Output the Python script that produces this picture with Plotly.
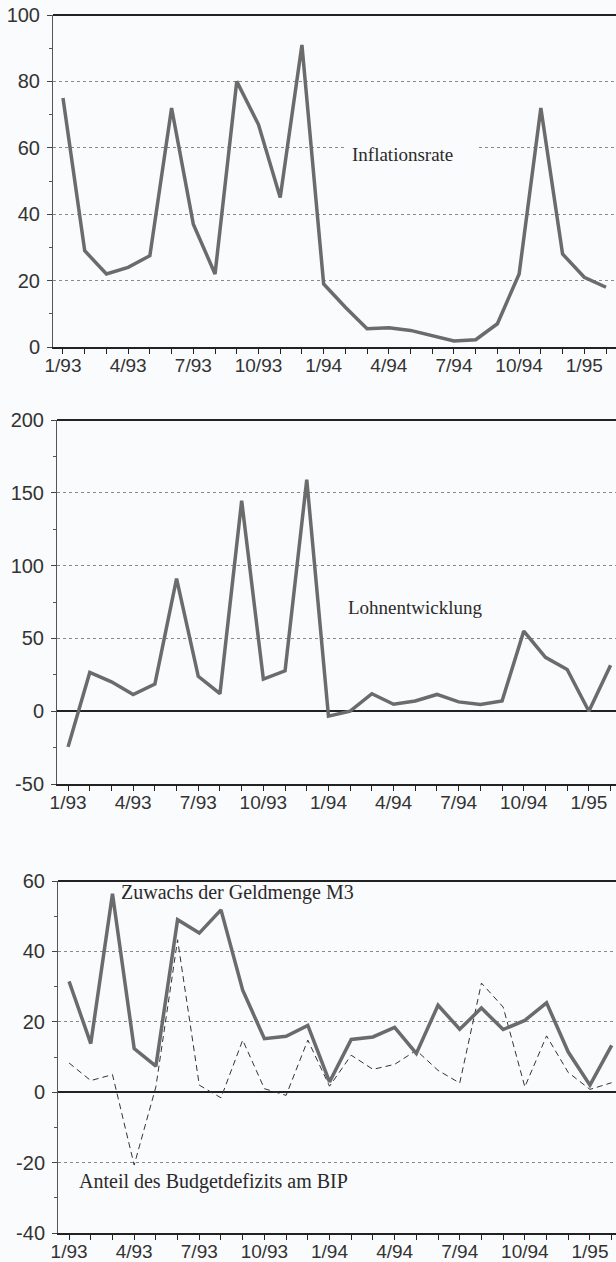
import plotly.graph_objects as go

months = ["1/93", "2/93", "3/93", "4/93", "5/93", "6/93", "7/93", "8/93", "9/93",
          "10/93", "11/93", "12/93", "1/94", "2/94", "3/94", "4/94", "5/94", "6/94",
          "7/94", "8/94", "9/94", "10/94", "11/94", "12/94", "1/95", "2/95"]
tick_labels = ["1/93", "", "", "4/93", "", "", "7/93", "", "", "10/93", "", "",
               "1/94", "", "", "4/94", "", "", "7/94", "", "", "10/94", "", "",
               "1/95", ""]

inflation = [75, 29, 22, 24, 27.5, 72, 37, 22, 80, 67, 45, 91, 19, 12, 5.5, 5.8,
             5.0, 3.5, 1.8, 2.2, 7.0, 22, 72, 28, 21, 18]
wages = [-24.5, 26.6, 20.2, 11.5, 18.6, 91, 24, 12, 144.5, 22, 27.7, 159, -3.4, 0,
         12, 4.8, 7, 11.5, 6.4, 4.6, 7, 55, 37, 28.6, 0, 31.6]
m3 = [31.5, 13.8, 56.4, 12.4, 7.4, 49, 45.2, 51.8, 29, 15.2, 15.9, 19, 2.9, 15,
      15.7, 18.4, 11, 24.7, 17.9, 23.9, 17.8, 20.4, 25.4, 11.4, 2, 13.3]
deficit = [8.3, 3.3, 5, -20.7, 1.5, 43.3, 2, -1.6, 14.8, 1, -0.9, 14.8, 1.7, 10.5,
           6.5, 7.9, 11.9, 6.2, 2.6, 31, 24.2, 1.5, 16, 5.6, 0.8, 2.7]

y1_ticks = [0, 20, 40, 60, 80, 100]
y2_ticks = [-50, 0, 50, 100, 150, 200]
y3_ticks = [-40, -20, 0, 20, 40, 60]

W, H = 616, 1262
idx = list(range(len(months)))

BG = "#fafbfc"
SOLID = "#6b6b6b"
DARK = "#222222"
GRID = "#8a8a8a"
XFONT = dict(family="Liberation Sans, Arial, sans-serif", size=19, color="#333333")
YFONT = dict(family="Liberation Sans, Arial, sans-serif", size=20, color="#333333")
SERIF = "Liberation Serif, Times New Roman, serif"

fig = go.Figure()
fig.add_trace(go.Scatter(x=idx, y=inflation, mode="lines", xaxis="x", yaxis="y",
                         line=dict(color=SOLID, width=3.5), hoverinfo="skip"))
fig.add_trace(go.Scatter(x=idx, y=wages, mode="lines", xaxis="x2", yaxis="y2",
                         line=dict(color=SOLID, width=3.5), hoverinfo="skip"))
fig.add_trace(go.Scatter(x=idx, y=deficit, mode="lines", xaxis="x3", yaxis="y3",
                         line=dict(color="#333333", width=1, dash="6px,4px"), hoverinfo="skip"))
fig.add_trace(go.Scatter(x=idx, y=m3, mode="lines", xaxis="x3", yaxis="y3",
                         line=dict(color=SOLID, width=3.5), hoverinfo="skip"))


def xaxis(domain_left_px, rng, anchor):
    return dict(domain=[domain_left_px / W, 1], range=rng, anchor=anchor,
                automargin=False,
                tickmode="array", tickvals=idx, ticktext=tick_labels,
                ticks="outside", ticklen=5, tickcolor=DARK, tickwidth=1,
                showline=True, linecolor=DARK, linewidth=2,
                showgrid=False, zeroline=False, tickfont=XFONT, ticklabelstandoff=-5)


def yaxis(dom_top_px, dom_bot_px, rng, ticks, minor_dtick, anchor, zeroline):
    return dict(domain=[(H - dom_bot_px) / H, (H - dom_top_px) / H], range=rng,
                anchor=anchor, automargin=False,
                tickmode="array", tickvals=ticks,
                ticktext=[str(t) for t in ticks],
                ticks="outside", ticklen=5, tickcolor="#444444",
                showline=True, linecolor="#555555", linewidth=1,
                showgrid=True, gridcolor=GRID, griddash="dot", gridwidth=1,
                zeroline=zeroline, zerolinecolor=DARK, zerolinewidth=2,
                minor=dict(dtick=minor_dtick, tick0=0, ticks="outside", ticklen=3,
                           tickcolor="#555555", showgrid=False),
                tickfont=YFONT, ticklabelstandoff=3)


fig.update_layout(
    width=W, height=H,
    autosize=False,
    margin=dict(l=0, r=0, t=0, b=0, pad=0, autoexpand=False),
    paper_bgcolor=BG, plot_bgcolor=BG,
    showlegend=False,
    xaxis=xaxis(53, [-0.46, 25.46], "y"),
    yaxis=yaxis(15, 347, [0, 100], y1_ticks, 10, "x", False),
    xaxis2=xaxis(57, [-0.51, 25.25], "y2"),
    yaxis2=yaxis(420, 784, [-50, 200], y2_ticks, 25, "x2", True),
    xaxis3=xaxis(58, [-0.51, 25.2], "y3"),
    yaxis3=yaxis(881, 1233, [-40, 60], y3_ticks, 10, "x3", True),
)

# top borders
for xr, yr in [("x", "y"), ("x2", "y2"), ("x3", "y3")]:
    fig.add_shape(type="line", xref=f"{xr} domain", yref=f"{yr} domain",
                  x0=0, x1=1, y0=1, y1=1, line=dict(color=DARK, width=2))

# white gap in grid behind "Inflationsrate"
fig.add_shape(type="rect", xref="x", yref="y", x0=12.98, x1=19.06, y0=57, y1=63,
              fillcolor=BG, line=dict(width=0), layer="between")

ann_font = dict(family=SERIF, size=19, color="#2a2a2a")
ann_font_big = dict(family=SERIF, size=20, color="#2a2a2a")
fig.add_annotation(x=13.2, y=58, xref="x", yref="y", text="Inflationsrate",
                   showarrow=False, xanchor="left", yanchor="middle", font=ann_font)
fig.add_annotation(x=12.8, y=71.5, xref="x2", yref="y2", text="Lohnentwicklung",
                   showarrow=False, xanchor="left", yanchor="middle", font=ann_font)
fig.add_annotation(x=2.3, y=56.6, xref="x3", yref="y3", text="Zuwachs der Geldmenge M3",
                   showarrow=False, xanchor="left", yanchor="middle", font=ann_font_big)
fig.add_annotation(x=0.35, y=-25.5, xref="x3", yref="y3", text="Anteil des Budgetdefizits am BIP",
                   showarrow=False, xanchor="left", yanchor="middle", font=ann_font_big)

fig.write_html("out.html", config={"displayModeBar": False},
               post_script="document.body.style.margin='0';document.body.style.overflow='hidden';")
